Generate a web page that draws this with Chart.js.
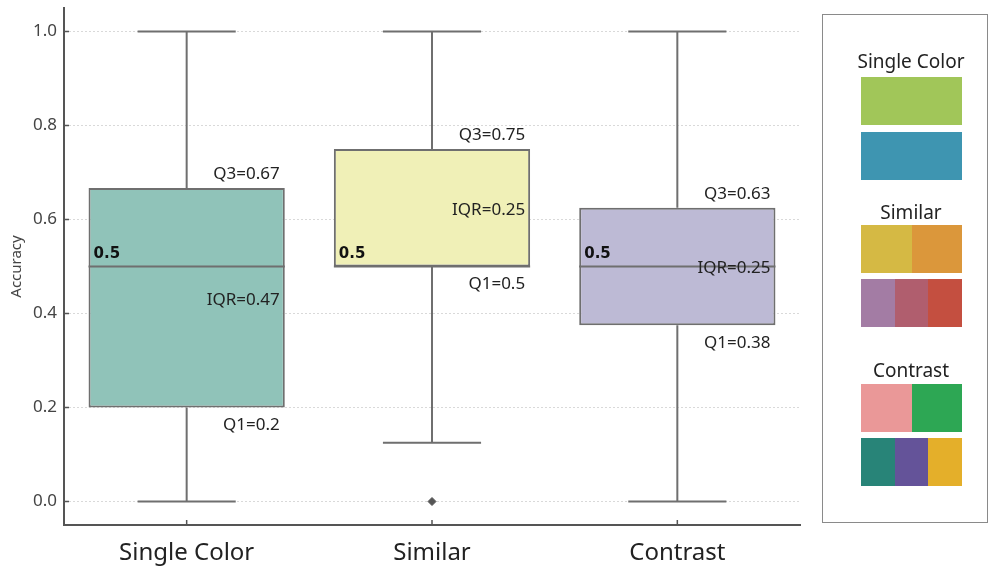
<!DOCTYPE html>
<html>
<head>
<meta charset="utf-8">
<script src="https://cdn.jsdelivr.net/npm/chart.js@4/dist/chart.umd.min.js"></script>
<style>
  body { margin: 0; background: #fff; }
  #wrap { position: relative; width: 999px; height: 570px; font-family: "Noto Sans", sans-serif; }
  #accChart { position: absolute; left: 0; top: 0; }
  #palettes {
    position: absolute; left: 822px; top: 14px; width: 166px; height: 509px;
    border: 1.5px solid #8a8a8a; box-sizing: border-box; color: #222;
  }
  #palettes .title { position: absolute; left: 6px; width: 100%; text-align: center; font-size: 19px; line-height: 22px; }
  #palettes .swatch { position: absolute; left: 38px; width: 101px; height: 48px; display: flex; }
  #palettes .swatch span { flex: 1; }
</style>
</head>
<body>
<div id="wrap">
  <canvas id="accChart" width="999" height="570"></canvas>
  <div id="palettes"></div>
</div>
<script>
const categories = ['Single Color', 'Similar', 'Contrast'];
const whiskerLow = [0, 0.125, 0];
const q1 = [0.2, 0.5, 0.375];
const median = [0.5, 0.5, 0.5];
const q3 = [0.667, 0.75, 0.625];
const whiskerHigh = [1.0, 1.0, 1.0];
const outliers = [null, 0, null];
const q1Labels = ['Q1=0.2', 'Q1=0.5', 'Q1=0.38'];
const q3Labels = ['Q3=0.67', 'Q3=0.75', 'Q3=0.63'];
const iqrLabels = ['IQR=0.47', 'IQR=0.25', 'IQR=0.25'];
const medianLabels = ['0.5', '0.5', '0.5'];
const boxColors = ['#90c3b9', '#f0f0b7', '#bdbad5'];
const yTicks = [0, 0.2, 0.4, 0.6, 0.8, 1.0];

// palette panel on the right
const paletteGroups = [
  { name: 'Single Color', titleY: 46, rowsY: [62, 117], rows: [['#a1c659'], ['#3e95b1']] },
  { name: 'Similar', titleY: 197, rowsY: [210, 264], rows: [['#d5b944', '#db973b'], ['#a37ca4', '#b05e6e', '#c44f40']] },
  { name: 'Contrast', titleY: 355, rowsY: [369, 423], rows: [['#ea9898', '#2da754'], ['#288478', '#645399', '#e4af2a']] }
];

const panel = document.getElementById('palettes');
paletteGroups.forEach(g => {
  const t = document.createElement('div');
  t.className = 'title';
  t.style.top = (g.titleY - 11) + 'px';
  t.textContent = g.name;
  panel.appendChild(t);
  g.rows.forEach((row, r) => {
    const s = document.createElement('div');
    s.className = 'swatch';
    s.style.top = g.rowsY[r] + 'px';
    row.forEach(c => {
      const sp = document.createElement('span');
      sp.style.background = c;
      s.appendChild(sp);
    });
    panel.appendChild(s);
  });
});

const lineGray = '#6f6f6f';

const boxPlotPlugin = {
  id: 'boxParts',
  beforeDatasetsDraw(chart) {
    const ctx = chart.ctx;
    const x = chart.scales.x, y = chart.scales.y;
    const meta = chart.getDatasetMeta(0);
    ctx.save();
    ctx.strokeStyle = lineGray;
    ctx.lineWidth = 2;
    categories.forEach((c, i) => {
      const bar = meta.data[i];
      const cx = x.getPixelForValue(i);
      const half = bar.width / 4;
      ctx.beginPath();
      ctx.moveTo(cx, y.getPixelForValue(q3[i]));
      ctx.lineTo(cx, y.getPixelForValue(whiskerHigh[i]));
      ctx.moveTo(cx - half, y.getPixelForValue(whiskerHigh[i]));
      ctx.lineTo(cx + half, y.getPixelForValue(whiskerHigh[i]));
      ctx.moveTo(cx, y.getPixelForValue(q1[i]));
      ctx.lineTo(cx, y.getPixelForValue(whiskerLow[i]));
      ctx.moveTo(cx - half, y.getPixelForValue(whiskerLow[i]));
      ctx.lineTo(cx + half, y.getPixelForValue(whiskerLow[i]));
      ctx.stroke();
    });
    ctx.restore();
  },
  afterDatasetsDraw(chart) {
    const ctx = chart.ctx;
    const x = chart.scales.x, y = chart.scales.y;
    const meta = chart.getDatasetMeta(0);
    ctx.save();
    ctx.strokeStyle = lineGray;
    ctx.lineWidth = 2;
    categories.forEach((c, i) => {
      const bar = meta.data[i];
      const left = bar.x - bar.width / 2, right = bar.x + bar.width / 2;
      const my = y.getPixelForValue(median[i]);
      ctx.beginPath();
      ctx.moveTo(left, my);
      ctx.lineTo(right, my);
      ctx.stroke();

      ctx.fillStyle = '#222';
      ctx.textBaseline = 'middle';
      ctx.font = '17px "Noto Sans"';
      ctx.textAlign = 'right';
      ctx.fillText(q3Labels[i], right - 5, y.getPixelForValue(q3[i]) - 14);
      ctx.fillText(q1Labels[i], right - 5, y.getPixelForValue(q1[i]) + 18);
      ctx.fillText(iqrLabels[i], right - 5, y.getPixelForValue((q1[i] + q3[i]) / 2) + 2);
      ctx.fillStyle = '#111';
      ctx.font = 'bold 15px "DejaVu Sans"';
      ctx.textAlign = 'left';
      ctx.fillText(medianLabels[i], left + 5, my - 12);
    });

    // inward tick marks on both axes
    ctx.strokeStyle = '#555';
    ctx.lineWidth = 1.5;
    ctx.beginPath();
    yTicks.forEach(v => {
      const py = y.getPixelForValue(v);
      ctx.moveTo(x.left, py);
      ctx.lineTo(x.left + 5, py);
    });
    categories.forEach((c, i) => {
      const px = x.getPixelForValue(i);
      ctx.moveTo(px, y.bottom);
      ctx.lineTo(px, y.bottom - 5);
    });
    ctx.stroke();
    ctx.restore();
  }
};

new Chart(document.getElementById('accChart').getContext('2d'), {
  data: {
    labels: categories,
    datasets: [
      {
        type: 'bar',
        data: categories.map((c, i) => [q1[i], q3[i]]),
        backgroundColor: boxColors,
        borderColor: lineGray,
        borderWidth: 2,
        borderSkipped: false,
        barPercentage: 0.8,
        categoryPercentage: 1.0
      },
      {
        type: 'line',
        data: outliers,
        showLine: false,
        pointStyle: 'rectRot',
        pointRadius: 4,
        backgroundColor: '#555',
        borderColor: '#555',
        borderWidth: 1
      }
    ]
  },
  options: {
    responsive: false,
    animation: false,
    layout: { padding: { top: 8, right: 199, left: 0, bottom: 0 } },
    plugins: { legend: { display: false }, tooltip: { enabled: false } },
    scales: {
      x: {
        offset: true,
        grid: { display: false, drawTicks: false },
        border: { display: true, color: '#555', width: 2 },
        ticks: { color: '#222', font: { family: 'Noto Sans', size: 24 }, padding: 14 },
        afterFit(scale) { scale.height = 45; }
      },
      y: {
        min: -0.05,
        max: 1.05,
        afterBuildTicks(scale) { scale.ticks = yTicks.map(v => ({ value: v })); },
        grid: { color: '#d9d9d9', lineWidth: 1, drawTicks: false },
        border: { display: true, color: '#555', width: 2, dash: [2, 2] },
        ticks: {
          color: '#444',
          font: { family: 'Noto Sans', size: 17 },
          padding: 7,
          callback: v => Number(v).toFixed(1)
        },
        title: { display: true, text: 'Accuracy', color: '#444', font: { family: 'Noto Sans', size: 15 }, padding: { top: 8, bottom: 0 } },
        afterFit(scale) {
          scale.width = 64;
          scale.paddingTop = 0;
          scale.paddingBottom = 0;
        }
      }
    }
  },
  plugins: [boxPlotPlugin]
});
</script>
</body>
</html>
